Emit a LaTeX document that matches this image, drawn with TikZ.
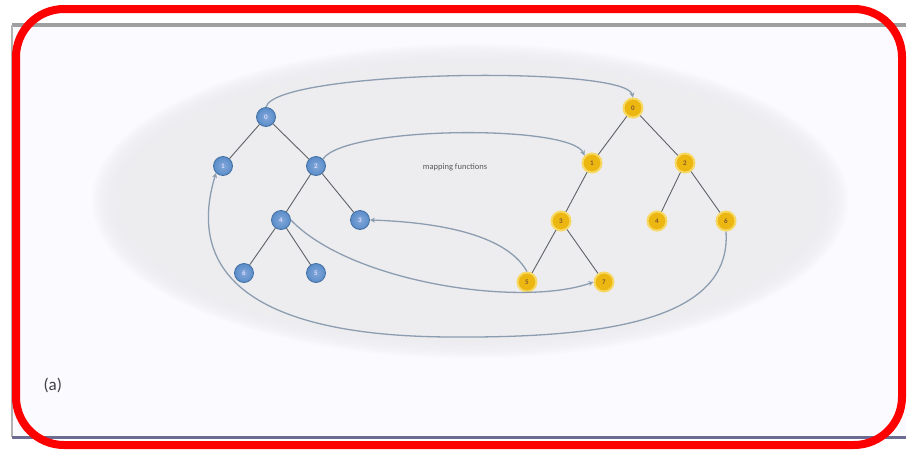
\documentclass[tikz,border=0pt]{standalone}
\usepackage{fontspec}
\setmainfont{Carlito}
\usetikzlibrary{arrows.meta}
\definecolor{linkgray}{HTML}{8C9DB0}
\definecolor{edgegray}{HTML}{5E6266}
\definecolor{bluenode}{HTML}{5A8CCB}
\definecolor{blueedge}{HTML}{41709F}
\definecolor{yellownode}{HTML}{EDB712}
\definecolor{yellowglow}{HTML}{F6D862}
\definecolor{haze}{HTML}{EDEDF0}
\begin{document}
\begin{tikzpicture}[x=1pt,y=-1pt,
  bnode/.style={circle,minimum size=19pt,inner sep=0pt,
    inner color=bluenode!75!white,outer color=bluenode,draw=blueedge,line width=0.8pt,
    font=\fontsize{7}{7}\selectfont\bfseries,text=blue!15},
  ynode/.style={circle,minimum size=19pt,inner sep=0pt,
    fill=yellownode,draw=yellowglow,line width=2pt,
    font=\fontsize{7}{7}\selectfont\bfseries,text=brown!70!black},
  treeedge/.style={draw=edgegray,line width=0.9pt},
  mapping/.style={draw=linkgray,line width=1.3pt,
    -{Stealth[length=5pt,width=5pt]}}]
\useasboundingbox (0,0) rectangle (908,453);
\fill[white] (0,0) rectangle (908,453);
% panel frame
\fill[white!98!blue] (12,25) rectangle (906,437);
\draw[gray!75,line width=4pt] (12,25) -- (906,25);
\draw[gray!60,line width=1.5pt] (12,25) -- (12,437);
\draw[gray!85!blue,line width=3pt] (12,437) -- (906,437);
% soft grey halo behind the two trees
\foreach \k in {0,...,7}{
  \fill[haze,opacity=0.2] (470,201) ellipse ({378-3*\k} and {157-2.2*\k});
}
\fill[haze] (470,201) ellipse (352 and 140);
% left tree
\node[bnode] (b0) at (266,117) {0};
\node[bnode] (b1) at (223,166) {1};
\node[bnode] (b2) at (316,166) {2};
\node[bnode] (b4) at (281,220) {4};
\node[bnode] (b3) at (360,220) {3};
\node[bnode] (b6) at (244,273) {6};
\node[bnode] (b5) at (316,273) {5};
% right tree
\node[ynode] (y0) at (633,108) {0};
\node[ynode] (y1) at (592,163) {1};
\node[ynode] (y2) at (685,163) {2};
\node[ynode] (y3) at (561,221) {3};
\node[ynode] (y4) at (657,221) {4};
\node[ynode] (y6) at (726,221) {6};
\node[ynode] (y5) at (527,282) {5};
\node[ynode] (y7) at (604,282) {7};
% tree edges
\foreach \a/\b in {b0/b1,b0/b2,b2/b4,b2/b3,b4/b6,b4/b5,
                   y0/y1,y0/y2,y1/y3,y2/y4,y2/y6,y3/y5,y3/y7}{
  \path[treeedge] (\a) -- (\b);
}
% mapping label
\node[text=black!65,font=\fontsize{8.5}{9}\selectfont] (maplabel) at (455,167) {mapping functions};
% mapping arrows between the trees
\path[mapping] (b0.north) .. controls (275,70) and (625,65) .. (y0.north);
\path[mapping] (b2.north east) .. controls (345,126) and (570,124) .. (y1.north west);
\path[mapping] (y5.north) .. controls (505,232) and (430,222) .. (b3.east);
\path[mapping] (b4.east) .. controls (350,282) and (520,308) .. (y7.west);
\coordinate (lowturn) at (450,337);
\path[mapping] (y6.south) .. controls (732,322) and (600,338) .. (lowturn)
  .. controls (255,336) and (185,275) .. (b1.south west);
% panel tag
\node[text=black!75,font=\fontsize{17}{18}\selectfont,anchor=west] (tag) at (40,385) {(a)};
% red outline
\draw[red,line width=8pt,rounded corners=48pt] (16,9) rectangle (902,445);
\end{tikzpicture}
\end{document}
